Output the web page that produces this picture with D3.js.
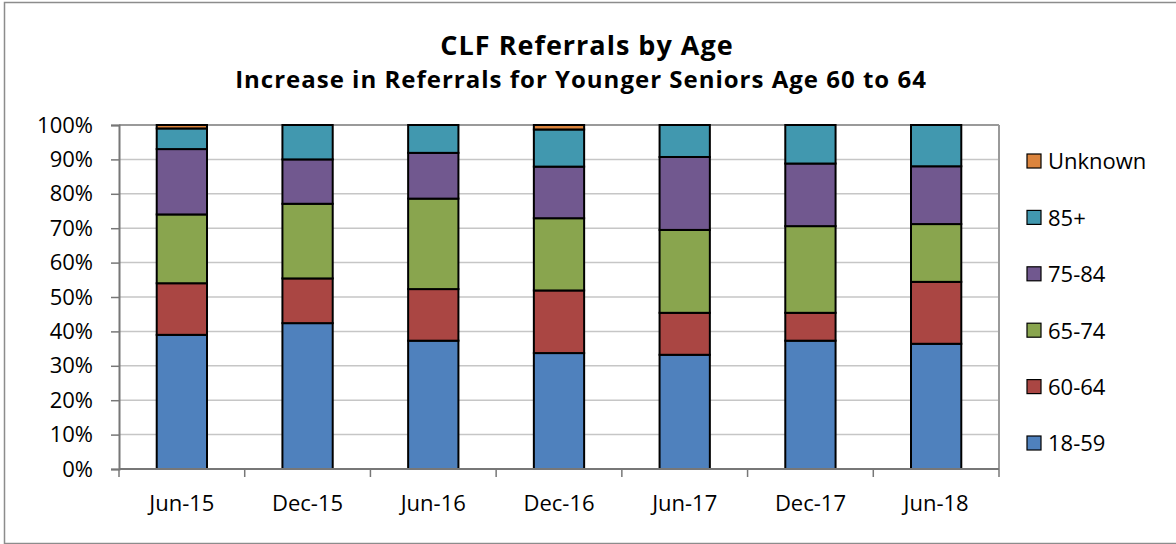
<!DOCTYPE html>
<html>
<head>
<meta charset="utf-8">
<script src="https://cdn.jsdelivr.net/npm/d3@7"></script>
<style>
  body { margin: 0; background: #fff; }
  svg { display: block; font-family: 'Open Sans', Lato, sans-serif; }
</style>
</head>
<body>
<svg id="chart" width="1176" height="544"></svg>
<script>
// category labels and series (percent of referrals)
const months = ['Jun-15', 'Dec-15', 'Jun-16', 'Dec-16', 'Jun-17', 'Dec-17', 'Jun-18'];
const age18to59 = [39, 42.4, 37.3, 33.7, 33.2, 37.3, 36.4];
const age60to64 = [15, 13, 15, 18.2, 12.2, 8.1, 18];
const age65to74 = [20, 21.7, 26.3, 21, 24.1, 25.2, 16.8];
const age75to84 = [19, 12.9, 13.3, 15, 21.2, 18.2, 16.8];
const age85plus = [6, 10, 8.1, 10.8, 9.3, 11.2, 12];
const ageUnknown = [1, 0, 0, 1.3, 0, 0, 0];

const seriesNames = ['18-59', '60-64', '65-74', '75-84', '85+', 'Unknown'];
const seriesValues = [age18to59, age60to64, age65to74, age75to84, age85plus, ageUnknown];
const colors = ['#4F81BD', '#AA4643', '#89A54E', '#71588F', '#4198AF', '#DB843D'];

const rows = months.map((m, i) => {
  const r = { month: m };
  seriesNames.forEach((s, j) => { r[s] = seriesValues[j][i]; });
  return r;
});

const svg = d3.select('#chart');
const margin = { top: 125, right: 177, bottom: 75, left: 119 };
const width = +svg.attr('width') - margin.left - margin.right;
const height = +svg.attr('height') - margin.top - margin.bottom;

// outer chart border
svg.append('rect')
    .attr('x', 4.5).attr('y', 2.5)
    .attr('width', 1176).attr('height', 541)
    .attr('fill', 'none')
    .attr('stroke', '#8c8c8c')
    .attr('stroke-width', 1.5);

svg.append('text')
    .attr('x', 587).attr('y', 55)
    .attr('text-anchor', 'middle')
    .style('font-size', '27px').style('font-weight', 'bold')
    .style('letter-spacing', '1px')
    .text('CLF Referrals by Age');
svg.append('text')
    .attr('x', 581).attr('y', 88)
    .attr('text-anchor', 'middle')
    .style('font-size', '24px').style('font-weight', 'bold')
    .style('letter-spacing', '1px')
    .text('Increase in Referrals for Younger Seniors Age 60 to 64');

const g = svg.append('g').attr('transform', `translate(${margin.left}, ${margin.top})`);

const x = d3.scaleBand()
    .domain(months)
    .range([0, width])
    .paddingInner(0.6)
    .paddingOuter(0.3);
const y = d3.scaleLinear()
    .domain([0, 1])
    .range([height, 0]);

// gridlines
g.append('g')
  .selectAll('line')
  .data(y.ticks(10))
  .join('line')
    .attr('x1', 0).attr('x2', width)
    .attr('y1', (d) => y(d)).attr('y2', (d) => y(d))
    .attr('stroke', (d) => (d === 1 ? '#9a9a9a' : '#c6c6c6'))
    .attr('stroke-width', (d) => (d === 1 ? 2 : 1.5));

// right plot border
g.append('line')
    .attr('x1', width).attr('x2', width)
    .attr('y1', 0).attr('y2', height)
    .attr('stroke', '#9a9a9a').attr('stroke-width', 2);

const stack = d3.stack()
    .keys(seriesNames)
    .offset(d3.stackOffsetExpand);
const layers = stack(rows);

g.append('g')
  .selectAll('g')
  .data(layers)
  .join('g')
    .attr('fill', (d, i) => colors[i])
  .selectAll('rect')
  .data((d) => d.filter((p) => p[1] - p[0] > 0))
  .join('rect')
    .attr('x', (d) => x(d.data.month))
    .attr('y', (d) => y(d[1]))
    .attr('width', x.bandwidth())
    .attr('height', (d) => y(d[0]) - y(d[1]))
    .attr('stroke', '#000')
    .attr('stroke-width', 2);

// y axis
const yAxis = g.append('g')
    .call(d3.axisLeft(y).ticks(10, '.0%').tickSize(8).tickPadding(18));
yAxis.select('.domain').attr('stroke', '#777').attr('stroke-width', 2);
yAxis.selectAll('.tick line').attr('stroke', '#777').attr('stroke-width', 1.5);
yAxis.selectAll('.tick text')
    .attr('fill', '#000')
    .style('font-size', '22px')
    .style('font-family', "'Open Sans', sans-serif");

// x axis: ticks sit between categories
const xAxis = g.append('g').attr('transform', `translate(0, ${height})`);
xAxis.append('line')
    .attr('x1', 0).attr('x2', width)
    .attr('stroke', '#777').attr('stroke-width', 2);
const step = x.step();
xAxis.selectAll('.sep')
  .data(d3.range(months.length + 1))
  .join('line')
    .attr('class', 'sep')
    .attr('x1', (i) => i * step).attr('x2', (i) => i * step)
    .attr('y1', 0).attr('y2', 8)
    .attr('stroke', '#777').attr('stroke-width', 1.5);
xAxis.selectAll('.lbl')
  .data(months)
  .join('text')
    .attr('class', 'lbl')
    .attr('x', (d) => x(d) + x.bandwidth() / 2)
    .attr('y', 42)
    .attr('text-anchor', 'middle')
    .style('font-size', '22px')
    .text((d) => d);

// legend, top entry is the top of the stack
const legend = svg.append('g').attr('transform', 'translate(1027, 161)');
const legendOrder = seriesNames.slice().reverse();
const item = legend.selectAll('g')
  .data(legendOrder)
  .join('g')
    .attr('transform', (d, i) => `translate(0, ${i * 56.4})`);
item.append('rect')
    .attr('x', 0).attr('y', -7)
    .attr('width', 14).attr('height', 14)
    .attr('fill', (d) => colors[seriesNames.indexOf(d)])
    .attr('stroke', '#000')
    .attr('stroke-width', 1.2);
item.append('text')
    .attr('x', 21).attr('y', 0)
    .attr('dy', '0.38em')
    .style('font-size', '22px')
    .text((d) => d);
</script>
</body>
</html>
